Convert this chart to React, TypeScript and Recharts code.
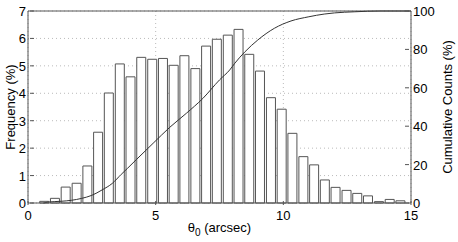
import { ComposedChart, Bar, Line, XAxis, YAxis, CartesianGrid, ReferenceLine } from 'recharts';

// bin centres (arcsec) and frequency (%) of each histogram bar
const binCenters = [
  0.63, 1.05, 1.47, 1.9, 2.32, 2.74, 3.16, 3.59, 4.01, 4.43, 4.86, 5.28, 5.7, 6.12, 6.55, 6.97, 7.39,
  7.82, 8.24, 8.66, 9.08, 9.51, 9.93, 10.35, 10.78, 11.2, 11.62, 12.04, 12.47, 12.89, 13.31, 13.74, 14.16, 14.58,
];
const frequency = [
  0.06, 0.17, 0.58, 0.72, 1.35, 2.58, 4.01, 5.07, 4.6, 5.31, 5.24, 5.27, 5.02, 5.37, 4.9, 5.72, 5.97,
  6.12, 6.33, 5.42, 4.81, 3.84, 3.42, 2.54, 1.69, 1.39, 0.84, 0.57, 0.46, 0.35, 0.26, 0.05, 0.13, 0.08,
];

// cumulative counts curve (%)
const cumX = [0.6, 0.8, 1.3, 1.7, 2.1, 2.5, 2.9, 3.3, 3.65, 3.9, 4.25, 4.9, 5.55, 6.2, 6.85, 7.5, 7.9, 8.1, 8.5, 9.0, 9.65, 10.3, 11.0, 11.6, 12.0, 12.8, 13.8, 15];
const cumPct = [0, 0.5, 0.9, 1.4, 2.4, 4.0, 6.8, 10.2, 14.9, 18.1, 22.7, 31.1, 39.4, 46.7, 54.5, 64.1, 69.3, 72.8, 78.8, 84.9, 91.0, 94.8, 97.0, 98.4, 99.0, 99.6, 100, 100];

const xTicks = [0, 5, 10, 15];
const freqTicks = [0, 1, 2, 3, 4, 5, 6, 7];
const cumTicks = [0, 20, 40, 60, 80, 100];

const FONT = '"Liberation Sans", Arial, sans-serif';
const AXIS = '#555';

const barData = binCenters.map((x, i) => ({ x, freq: frequency[i] }));
const cumData = cumX.map((x, i) => ({ cx: x, cum: cumPct[i] }));

const LeftTick = (props: any) => {
  const { x, y, payload } = props;
  return (
    <g>
      <line x1={x + 4} x2={x + 8} y1={y} y2={y} stroke={AXIS} />
      <text x={x} y={y} dy={5} textAnchor="end" fontSize={13} fontFamily={FONT} fill="#000">
        {payload.value}
      </text>
    </g>
  );
};

const RightTick = (props: any) => {
  const { x, y, payload } = props;
  return (
    <g>
      <line x1={x - 8} x2={x - 4} y1={y} y2={y} stroke={AXIS} />
      <text x={x} y={y} dy={5} textAnchor="start" fontSize={13} fontFamily={FONT} fill="#000">
        {payload.value}
      </text>
    </g>
  );
};

const BottomTick = (props: any) => {
  const { x, y, payload } = props;
  return (
    <g>
      <line x1={x} x2={x} y1={y - 8} y2={y - 4} stroke={AXIS} />
      <text x={x} y={y} dy={11} textAnchor="middle" fontSize={13} fontFamily={FONT} fill="#000">
        {payload.value}
      </text>
    </g>
  );
};

const XLabel = (props: any) => {
  const { viewBox } = props;
  const cx = viewBox.x + viewBox.width / 2;
  return (
    <text x={cx} y={viewBox.y + 29} textAnchor="middle" fontSize={13} fontFamily={FONT} fill="#000">
      θ<tspan fontSize={10} dy={4}>0</tspan>
      <tspan dy={-4}> (arcsec)</tspan>
    </text>
  );
};

const LeftLabel = (props: any) => {
  const { viewBox } = props;
  const cy = viewBox.y + viewBox.height / 2;
  return (
    <text
      x={10}
      y={cy}
      transform={`rotate(-90, 10, ${cy})`}
      textAnchor="middle"
      dominantBaseline="central"
      fontSize={13}
      fontFamily={FONT}
      fill="#000"
    >
      Frequency (%)
    </text>
  );
};

const RightLabel = (props: any) => {
  const { viewBox } = props;
  const cy = viewBox.y + viewBox.height / 2;
  const lx = viewBox.x + 36;
  return (
    <text
      x={lx}
      y={cy}
      transform={`rotate(-90, ${lx}, ${cy})`}
      textAnchor="middle"
      dominantBaseline="central"
      fontSize={13}
      fontFamily={FONT}
      fill="#000"
    >
      Cumulative Counts (%)
    </text>
  );
};

export default function App() {
  return (
    <div style={{ position: 'absolute', left: 0, top: 0, width: 458, height: 242, background: '#fff' }}>
      <ComposedChart width={458} height={242} data={barData} margin={{ top: 11, right: 0, bottom: 0, left: 0 }}>
        <CartesianGrid xAxisId="main" yAxisId="left" stroke="#bbb" strokeDasharray="1 3" />
        <XAxis
          xAxisId="main"
          dataKey="x"
          type="number"
          domain={[0, 15]}
          ticks={xTicks}
          height={39}
          stroke={AXIS}
          tickLine={false}
          tickSize={4}
          tick={<BottomTick />}
          label={<XLabel />}
          allowDataOverflow
        />
        <XAxis
          xAxisId="cum"
          dataKey="cx"
          type="number"
          domain={[0, 15]}
          orientation="top"
          height={0}
          hide
          allowDataOverflow
        />
        <YAxis
          yAxisId="left"
          domain={[0, 7]}
          ticks={freqTicks}
          width={28}
          stroke={AXIS}
          tickLine={false}
          tickSize={0}
          tick={<LeftTick />}
          label={<LeftLabel />}
        />
        <YAxis
          yAxisId="right"
          orientation="right"
          domain={[0, 100]}
          ticks={cumTicks}
          width={47}
          stroke={AXIS}
          tickLine={false}
          tickSize={0}
          tick={<RightTick />}
          label={<RightLabel />}
        />
        <ReferenceLine xAxisId="main" yAxisId="left" y={7} stroke={AXIS} />
        <Bar
          xAxisId="main"
          yAxisId="left"
          dataKey="freq"
          barSize={9}
          fill="#fff"
          stroke="#555"
          strokeWidth={1}
          isAnimationActive={false}
        />
        <Line
          xAxisId="cum"
          yAxisId="right"
          data={cumData}
          dataKey="cum"
          type="monotone"
          stroke="#333"
          strokeWidth={1}
          dot={false}
          isAnimationActive={false}
        />
      </ComposedChart>
    </div>
  );
}
